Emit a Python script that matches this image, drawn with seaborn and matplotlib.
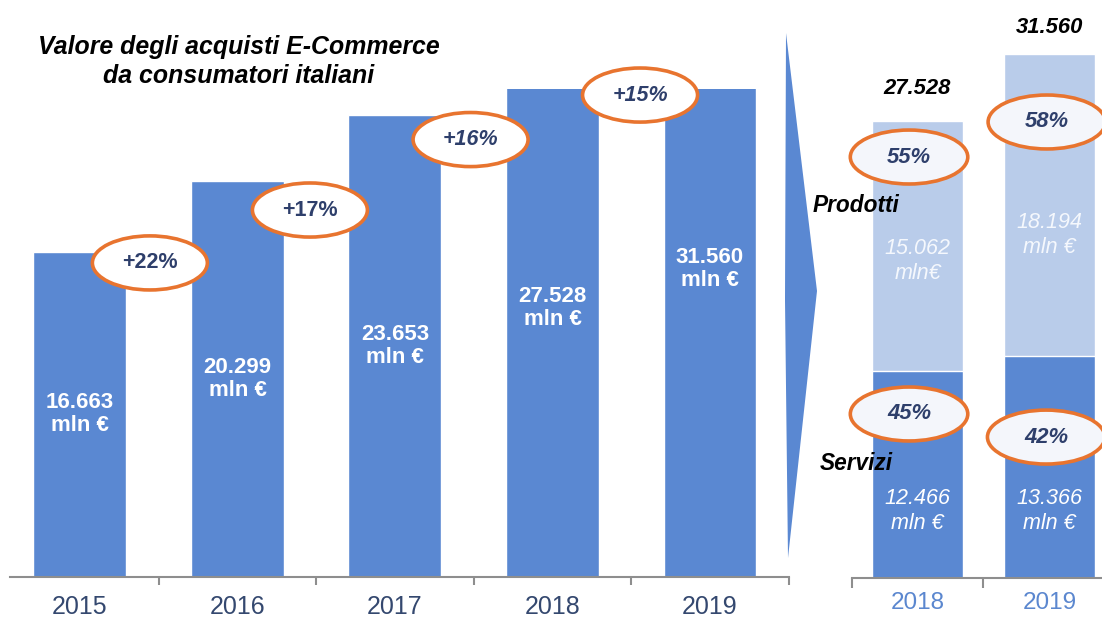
import numpy as np
import matplotlib
matplotlib.use("Agg")
import matplotlib.pyplot as plt
from matplotlib.patches import Ellipse, Polygon
import seaborn as sns

# ---- data (values in thousands of mln €) ----
years = ["2015", "2016", "2017", "2018", "2019"]
totals = [16.663, 20.299, 23.653, 27.528, 31.560]
growth = ["+22%", "+17%", "+16%", "+15%"]

split_years = ["2018", "2019"]
servizi = [12.466, 13.366]
prodotti = [15.062, 18.194]
share_prodotti = ["55%", "58%"]
share_servizi = ["45%", "42%"]
prodotti_unit = ["mln€", "mln €"]
servizi_unit = ["mln €", "mln €"]

# ---- style ----
BLUE = "#5A88D2"
LIGHT = "#B9CCEA"
NAVY = "#2E3F6B"
YEAR_NAVY = "#34486F"
YEAR_BLUE = "#5B87CF"
ORANGE = "#E8742F"
GREY = "#8E8E8E"

sns.set_style("white")
plt.rcParams["font.family"] = ["Liberation Sans", "DejaVu Sans"]

W, H = 1102, 618
fig = plt.figure(figsize=(W / 100, H / 100), dpi=100)


def fx(px):
    return px / W


def fy(py):
    return 1 - py / H


# ---- left panel: yearly totals ----
ax1 = fig.add_axes([fx(10), fy(577), (788.75 - 10) / W, (577 - 89) / H])
sns.barplot(x=years, y=totals, color=BLUE, saturation=1, width=0.59,
            errorbar=None, ax=ax1)
ax1.set_xlim(-0.444, 4.5)
ax1.set_ylim(0, 25.0)
ax1.set_xlabel("")
ax1.set_ylabel("")
ax1.set_yticks([])
for s in ("top", "right", "left"):
    ax1.spines[s].set_visible(False)
ax1.spines["bottom"].set_color(GREY)
ax1.spines["bottom"].set_linewidth(1.5)
ax1.set_xticks(range(len(years)))
ax1.set_xticklabels(years, fontsize=18, color=YEAR_NAVY)
ax1.tick_params(axis="x", which="major", length=0, pad=13)
ax1.set_xticks(np.arange(0.5, len(years), 1), minor=True)
ax1.tick_params(axis="x", which="minor", bottom=True, length=6, width=1.5,
                color=GREY, direction="out")

for i, v in enumerate(totals):
    ax1.text(i, v / 2, f"{v:.3f}\nmln €", ha="center", va="center",
             color="white", fontsize=16, fontweight="bold", linespacing=1.12,
             zorder=4)

growth_pos = [(0.444, 16.09), (1.46, 18.8), (2.48, 22.41), (3.556, 24.69)]
growth_italic = [False, False, True, True]
for lab, (gx, gy), it in zip(growth, growth_pos, growth_italic):
    ax1.add_patch(Ellipse((gx, gy), width=0.73, height=2.77, facecolor="white",
                          edgecolor=ORANGE, linewidth=2.6, clip_on=False,
                          zorder=5))
    ax1.text(gx, gy, lab, ha="center", va="center", color=NAVY, fontsize=15.5,
             fontweight="bold", fontstyle="italic" if it else "normal",
             zorder=6, clip_on=False)

# ---- arrow between panels ----
arrow_px = [(786, 33), (817, 291), (788, 558), (785, 300)]
fig.add_artist(Polygon([(fx(x), fy(y)) for x, y in arrow_px], closed=True,
                       facecolor=BLUE, edgecolor="none",
                       transform=fig.transFigure))

# ---- right panel: split Prodotti / Servizi ----
ax2 = fig.add_axes([fx(851.5), fy(578), (W - 851.5) / W, 578 / H])
stack_tot = [s + p for s, p in zip(servizi, prodotti)]
sns.barplot(x=split_years, y=stack_tot, color=LIGHT, saturation=1, width=0.69,
            errorbar=None, ax=ax2)
sns.barplot(x=split_years, y=servizi, color=BLUE, saturation=1, width=0.69,
            errorbar=None, ax=ax2)
ax2.set_xlim(-0.5, 1.398)
ax2.set_ylim(0, 578 / 16.6)
ax2.set_xlabel("")
ax2.set_ylabel("")
ax2.set_yticks([])
for s in ("top", "right", "left"):
    ax2.spines[s].set_visible(False)
ax2.spines["bottom"].set_color(GREY)
ax2.spines["bottom"].set_linewidth(1.5)
ax2.set_xticks(range(len(split_years)))
ax2.set_xticklabels(split_years, fontsize=17.5, color=YEAR_BLUE)
ax2.tick_params(axis="x", which="major", length=0, pad=10)
ax2.set_xticks([-0.5, 0.5], minor=True)
ax2.tick_params(axis="x", which="minor", bottom=True, length=7, width=1.5,
                color=GREY, direction="out")

total_off_px = [33, 27]
for i, (t, off) in enumerate(zip(stack_tot, total_off_px)):
    ax2.annotate(f"{t:.3f}", (i, t), xytext=(0, off * 0.72),
                 textcoords="offset points", ha="center", va="center",
                 fontsize=15.8, fontweight="bold", fontstyle="italic",
                 color="black", annotation_clip=False)

prod_label_y = [19.1, 20.66]
serv_label_y = [4.04, 4.04]
for i in range(len(split_years)):
    ax2.text(i, prod_label_y[i], f"{prodotti[i]:.3f}\n{prodotti_unit[i]}",
             ha="center", va="center", color="#F5F8FD", fontsize=15.5,
             fontstyle="italic", linespacing=1.25, zorder=4)
    ax2.text(i, serv_label_y[i], f"{servizi[i]:.3f}\n{servizi_unit[i]}",
             ha="center", va="center", color="white", fontsize=15.5,
             fontstyle="italic", linespacing=1.25, zorder=4)

share_pos_p = [(-0.064, 25.36), (0.98, 27.47)]
share_pos_s = [(-0.064, 9.88), (0.975, 8.49)]
for labs, poss in ((share_prodotti, share_pos_p), (share_servizi, share_pos_s)):
    for lab, (sx, sy) in zip(labs, poss):
        ax2.add_patch(Ellipse((sx, sy), width=0.89, height=3.25,
                              facecolor="#F4F6FB", edgecolor=ORANGE,
                              linewidth=2.6, clip_on=False, zorder=5))
        ax2.text(sx, sy, lab, ha="center", va="center", color=NAVY,
                 fontsize=15.8, fontweight="bold", fontstyle="italic",
                 zorder=6, clip_on=False)

fig.text(fx(813), fy(205), "Prodotti", ha="left", va="center", fontsize=16.3,
         fontweight="bold", fontstyle="italic", color="black", zorder=7)
fig.text(fx(820), fy(463), "Servizi", ha="left", va="center", fontsize=16.3,
         fontweight="bold", fontstyle="italic", color="black", zorder=7)

# ---- title ----
fig.text(fx(239), fy(47), "Valore degli acquisti E-Commerce", ha="center",
         va="center", fontsize=17.9, fontweight="bold", fontstyle="italic",
         color="black")
fig.text(fx(239), fy(76), "da consumatori italiani", ha="center",
         va="center", fontsize=17.9, fontweight="bold", fontstyle="italic",
         color="black")

fig.savefig("out.png", dpi=100)
